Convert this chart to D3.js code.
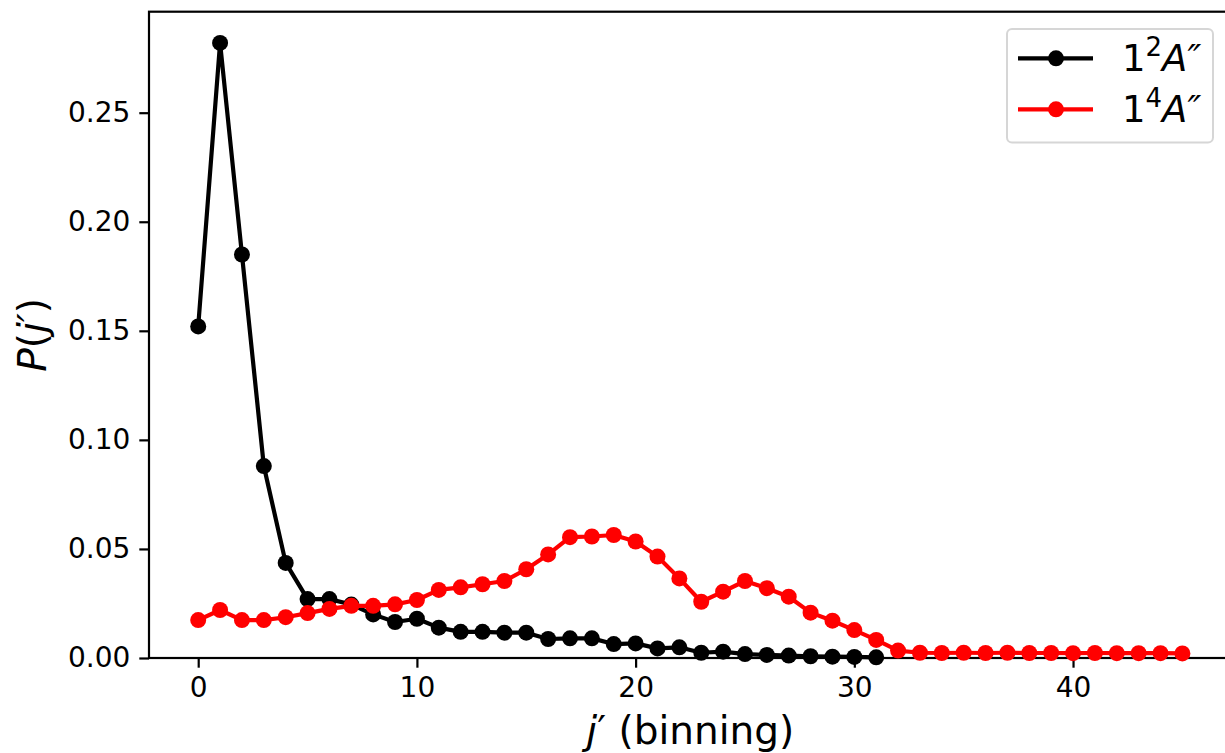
<!DOCTYPE html>
<html>
<head>
<meta charset="utf-8">
<script src="https://cdn.jsdelivr.net/npm/d3@7"></script>
<style>
  body { margin: 0; background: #fff; }
  svg { display: block; font-family: "DejaVu Sans", sans-serif; }
</style>
</head>
<body>
<svg id="chart" width="1225" height="753"></svg>
<script>
// ---- data ----
const black_j = d3.range(0, 32);
const black_P = [0.152, 0.282, 0.185, 0.088, 0.0436, 0.027, 0.027, 0.0245, 0.020, 0.0165,
  0.018, 0.0139, 0.012, 0.012, 0.0116, 0.0116, 0.0087, 0.009, 0.009, 0.0064,
  0.0067, 0.0044, 0.0049, 0.0024, 0.0029, 0.0018, 0.0014, 0.0011, 0.0008, 0.0006,
  0.0005, 0.0003];
const red_j = d3.range(0, 46);
const red_P = [0.0174, 0.022, 0.0174, 0.0174, 0.0187, 0.0206, 0.0225, 0.0239, 0.0239, 0.0246,
  0.0266, 0.0312, 0.0324, 0.0338, 0.0353, 0.0407, 0.0475, 0.0554, 0.0557, 0.0564,
  0.0534, 0.0465, 0.0365, 0.0258, 0.0304, 0.0353, 0.032, 0.0281, 0.0208, 0.0171,
  0.0128, 0.0083, 0.0034, 0.0024, 0.0023, 0.0024, 0.0023, 0.0024, 0.0023, 0.0023,
  0.0022, 0.0023, 0.0022, 0.0022, 0.0022, 0.0021];
const xTicks = [0, 10, 20, 30, 40];
const yTicks = [0, 0.05, 0.10, 0.15, 0.20, 0.25];
const seriesColors = ["#000000", "#ff0000"];

// ---- layout ----
const svg = d3.select("#chart");
const L = 149, T = 11.7, R = 1231.6, B = 658;
const x = d3.scaleLinear().domain([-2.25, 47.25]).range([L, R]);
const y = d3.scaleLinear().domain([0, 0.2963]).range([B, T]);

const tickFont = 28;

// axes
const xAxis = svg.append("g").attr("transform", `translate(0,${B})`)
  .call(d3.axisBottom(x).tickValues(xTicks).tickFormat(d3.format("d")).tickSize(9.7).tickPadding(9));
const yAxis = svg.append("g").attr("transform", `translate(${L},0)`)
  .call(d3.axisLeft(y).tickValues(yTicks).tickFormat(d3.format(".2f")).tickSize(9.7).tickPadding(9));
[xAxis, yAxis].forEach(g => {
  g.select(".domain").remove();
  g.selectAll(".tick line").attr("stroke", "#000").attr("stroke-width", 2.2);
  g.selectAll(".tick text").attr("fill", "#000").style("font-size", tickFont + "px")
    .style("font-family", "'DejaVu Sans', sans-serif");
});

// frame
svg.append("rect").attr("x", L).attr("y", T).attr("width", R - L).attr("height", B - T)
  .attr("fill", "none").attr("stroke", "#000").attr("stroke-width", 2.2);

// series
const series = [
  {j: black_j, P: black_P, color: seriesColors[0]},
  {j: red_j, P: red_P, color: seriesColors[1]}
];
const line = d3.line().x(d => x(d[0])).y(d => y(d[1]));
series.forEach(s => {
  const pts = s.j.map((j, i) => [j, s.P[i]]);
  svg.append("path").datum(pts).attr("d", line).attr("fill", "none")
    .attr("stroke", s.color).attr("stroke-width", 4.2).attr("stroke-linejoin", "round");
  svg.append("g").selectAll("circle").data(pts).join("circle")
    .attr("cx", d => x(d[0])).attr("cy", d => y(d[1])).attr("r", 8).attr("fill", s.color);
});

// axis labels
svg.append("text").attr("x", (L + R) / 2).attr("y", 744).attr("text-anchor", "middle")
  .style("font-size", "39px")
  .call(t => {
    t.append("tspan").text("j").style("font-style", "italic");
    t.append("tspan").text("′ (binning)");
  });
svg.append("text").attr("transform", `translate(46,${(T + B) / 2}) rotate(-90)`)
  .attr("text-anchor", "middle").style("font-size", "39px")
  .call(t => {
    t.append("tspan").text("P").style("font-style", "italic");
    t.append("tspan").text("(");
    t.append("tspan").text("j′").style("font-style", "italic");
    t.append("tspan").text(")");
  });

// legend
const leg = svg.append("g");
leg.append("rect").attr("x", 1007).attr("y", 29).attr("width", 206).attr("height", 113.5)
  .attr("rx", 5).attr("fill", "#fff").attr("fill-opacity", 0.8)
  .attr("stroke", "#d6d6d6").attr("stroke-width", 2);
const legendLabels = [["1", "2"], ["1", "4"]];
[58.3, 109.3].forEach((ly, i) => {
  leg.append("line").attr("x1", 1018).attr("x2", 1093).attr("y1", ly).attr("y2", ly)
    .attr("stroke", seriesColors[i]).attr("stroke-width", 4.2);
  leg.append("circle").attr("cx", 1056).attr("cy", ly).attr("r", 8).attr("fill", seriesColors[i]);
  const t = leg.append("text").attr("x", 1122).attr("y", ly + 13).style("font-size", "37px");
  t.append("tspan").text(legendLabels[i][0]);
  t.append("tspan").text(legendLabels[i][1]).attr("dy", -15).style("font-size", "26px");
  t.append("tspan").text("A″").attr("dy", 15).style("font-style", "italic");
});
</script>
</body>
</html>
